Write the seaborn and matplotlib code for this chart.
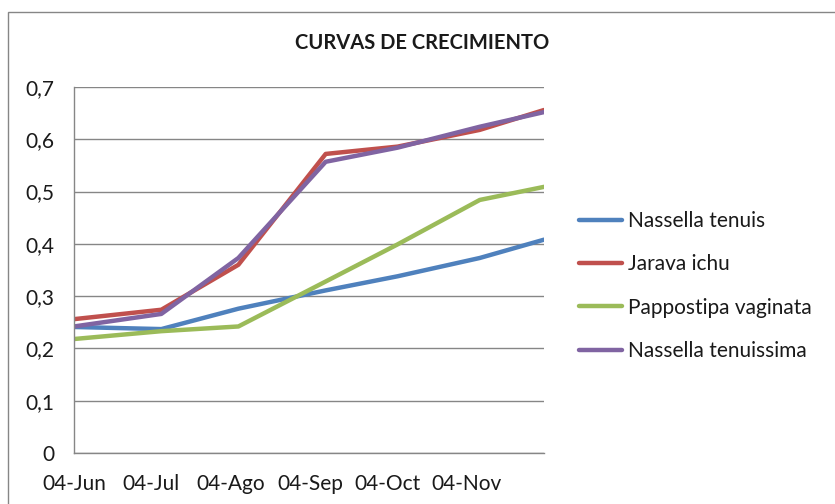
import pandas as pd
import seaborn as sns
import matplotlib.pyplot as plt
import matplotlib.dates as mdates
from matplotlib.patches import Rectangle
from matplotlib.ticker import FuncFormatter, MultipleLocator

# fechas de medicion (eje de fechas, como en la planilla)
fechas = pd.to_datetime(['2012-06-04', '2012-07-08', '2012-08-07', '2012-09-10',
                         '2012-10-08', '2012-11-09', '2012-12-04'])
especies = ['Nassella tenuis', 'Jarava ichu', 'Pappostipa vaginata', 'Nassella tenuissima']
nassella_tenuis = [0.241, 0.237, 0.276, 0.311, 0.338, 0.373, 0.408]
jarava_ichu = [0.256, 0.274, 0.360, 0.572, 0.586, 0.618, 0.656]
pappostipa_vaginata = [0.218, 0.233, 0.242, 0.328, 0.399, 0.484, 0.509]
nassella_tenuissima = [0.242, 0.266, 0.373, 0.557, 0.584, 0.624, 0.652]
colores = ['#4F81BD', '#C0504D', '#9BBB59', '#8064A2']
meses = {6: 'Jun', 7: 'Jul', 8: 'Ago', 9: 'Sep', 10: 'Oct', 11: 'Nov', 12: 'Dic'}

series = [nassella_tenuis, jarava_ichu, pappostipa_vaginata, nassella_tenuissima]
df = pd.concat([pd.DataFrame({'fecha': fechas, 'valor': v, 'especie': e})
                for e, v in zip(especies, series)], ignore_index=True)

sns.set_style("white")
plt.rcParams['font.family'] = ['Lato', 'DejaVu Sans']

gris = '#868686'
texto = '#1a1a1a'
fig = plt.figure(figsize=(8.35, 5.04), dpi=100)
ax = fig.add_axes([74 / 835, 51 / 504, 470 / 835, 366 / 504])

sns.lineplot(data=df, x='fecha', y='valor', hue='especie', hue_order=especies,
             palette=colores, lw=3.2, ax=ax)

ax.set_xlim(fechas[0], fechas[-1])
ax.set_ylim(0, 0.7)
ax.yaxis.set_major_locator(MultipleLocator(0.1))
ax.yaxis.set_major_formatter(FuncFormatter(
    lambda v, p: '0' if abs(v) < 1e-9 else ('%.1f' % v).replace('.', ',')))


def etiqueta_fecha(v, p):
    d = mdates.num2date(v)
    if d.month == 12:
        return ''
    return '%02d-%s' % (d.day, meses[d.month])


ax.xaxis.set_major_locator(mdates.MonthLocator(bymonthday=4))
ax.xaxis.set_major_formatter(FuncFormatter(etiqueta_fecha))

ax.grid(axis='y', color=gris, lw=1)
ax.set_axisbelow(True)
for s in ['top', 'right']:
    ax.spines[s].set_visible(False)
for s in ['left', 'bottom']:
    ax.spines[s].set_color(gris)
    ax.spines[s].set_linewidth(1)
ax.tick_params(axis='both', direction='out', length=5, width=1, color=gris,
               labelsize=15, labelcolor=texto)
ax.tick_params(axis='y', pad=9)
ax.tick_params(axis='x', pad=10)
ax.set_xlabel('')
ax.set_ylabel('')

handles, labels = ax.get_legend_handles_labels()
ax.get_legend().remove()
fig.legend(handles, labels, loc='center left', bbox_to_anchor=(579 / 835, 1 - 286 / 504),
           frameon=False, fontsize=15, handlelength=2.05, handletextpad=0.3,
           labelspacing=1.12, borderpad=0, borderaxespad=0, labelcolor=texto)

fig.text(422 / 835, 1 - 43 / 504, 'CURVAS DE CRECIMIENTO', ha='center', va='center',
         fontsize=14.5, fontweight='bold', color=texto)

# borde del area del grafico
fig.patches.append(Rectangle((8 / 835, -0.1), 1.2, 1.1 - 12 / 504, transform=fig.transFigure,
                             fill=False, edgecolor=gris, lw=1))

fig.savefig('out.png', dpi=100)
